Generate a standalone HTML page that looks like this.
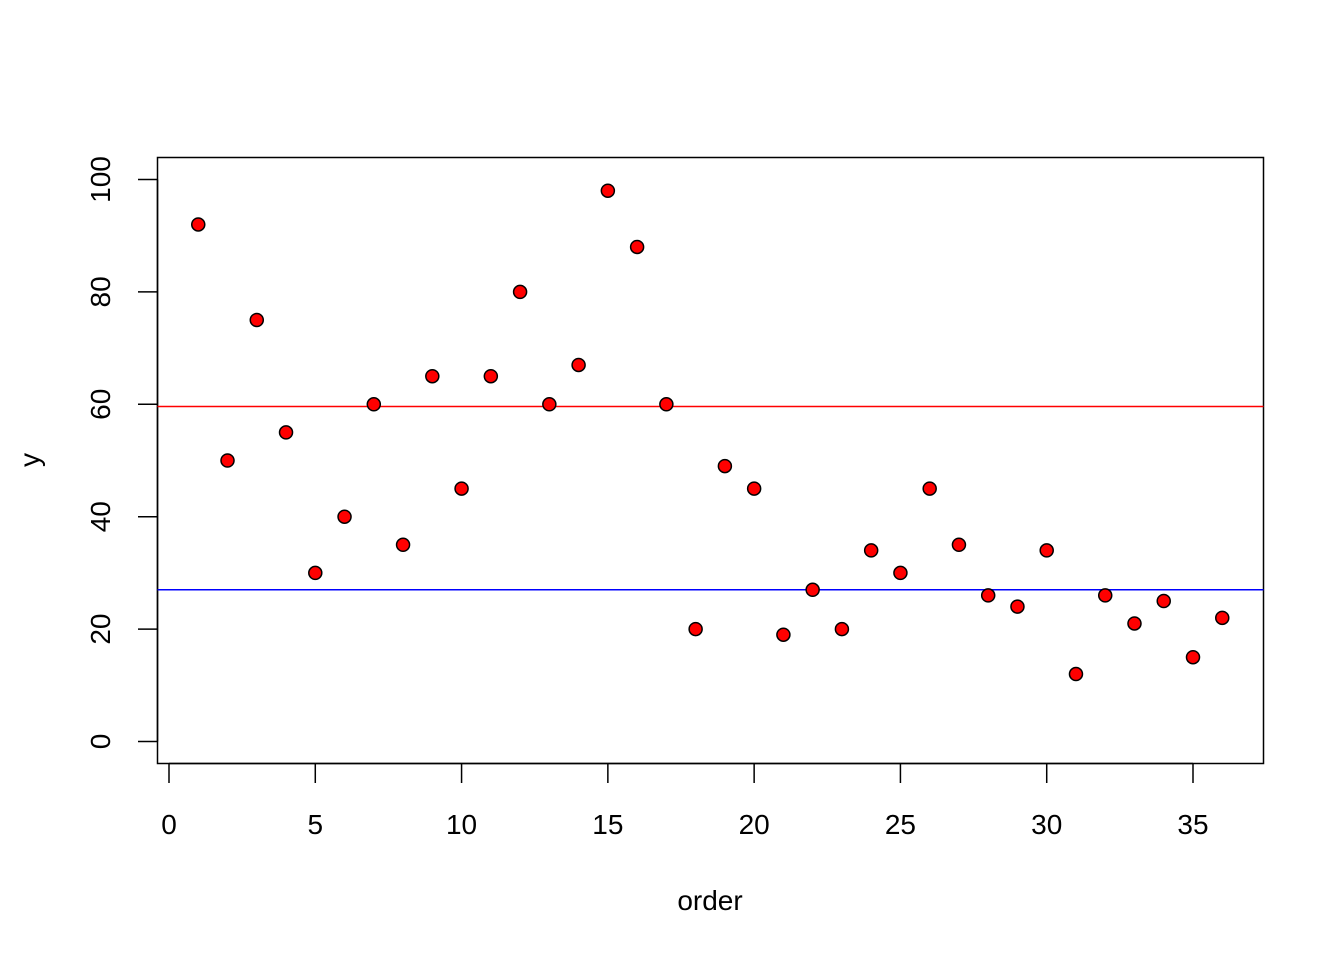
<!DOCTYPE html>
<html><head><meta charset="utf-8"><style>
body{margin:0;background:#fff}
svg text{font-family:"Liberation Sans",Arial,sans-serif;font-size:28px;fill:#000}
</style></head><body>
<svg width="1344" height="960">
<rect x="157.5" y="157.5" width="1106" height="606" fill="none" stroke="#000" stroke-width="1.5"/>
<g id="xaxis"></g>
<g id="yaxis"></g>
<g id="lines"></g>
<g id="pts"></g>
<text x="710" y="910" text-anchor="middle">order</text>
<text transform="translate(39,460) rotate(-90)" text-anchor="middle">y</text>
</svg>
<script>
const yValues=[92,50,75,55,30,40,60,35,65,45,65,80,60,67,98,88,60,20,49,45,19,27,20,34,30,45,35,26,24,34,12,26,21,25,15,22];
const xTicks=[0,5,10,15,20,25,30,35];
const yTicks=[0,20,40,60,80,100];
const redLineValue=59.6;
const blueLineValue=27;
const sx=v=>169+v*(1024/35);
const sy=v=>741.5-v*5.62;
const NS="http://www.w3.org/2000/svg";
function mk(t,a,p){const e=document.createElementNS(NS,t);for(const k in a)e.setAttribute(k,a[k]);p.appendChild(e);return e;}
const xa=document.getElementById('xaxis');
mk('line',{x1:sx(0),x2:sx(35),y1:763.5,y2:763.5,stroke:'#000','stroke-width':1.5},xa);
xTicks.forEach(t=>{
 const l=mk('line',{x1:sx(t),x2:sx(t),y1:763.5,y2:783,stroke:'#000','stroke-width':1.5},xa);
 
 
 const tx=mk('text',{x:sx(t),y:834,'text-anchor':'middle'},xa);tx.textContent=t;
 
 
});
const ya=document.getElementById('yaxis');
mk('line',{x1:157.5,x2:157.5,y1:sy(0),y2:sy(100),stroke:'#000','stroke-width':1.5},ya);
yTicks.forEach(t=>{
 const l=mk('line',{x1:138,x2:157.5,y1:sy(t),y2:sy(t),stroke:'#000','stroke-width':1.5},ya);
 
 
 const tx=mk('text',{transform:`translate(110,${sy(t)}) rotate(-90)`,'text-anchor':'middle'},ya);tx.textContent=t;
 
 
});
const lg=document.getElementById('lines');
const r=mk('line',{x1:157.5,x2:1263.5,y1:sy(redLineValue),y2:sy(redLineValue),stroke:'#f00','stroke-width':1.5},lg);


const b=mk('line',{x1:157.5,x2:1263.5,y1:sy(blueLineValue),y2:sy(blueLineValue),stroke:'#00f','stroke-width':1.5},lg);


const pg=document.getElementById('pts');
yValues.forEach((v,i)=>{
 const c=mk('circle',{cx:sx(i+1),cy:sy(v),r:6.5,fill:'#f00',stroke:'#000','stroke-width':1.5},pg);
 
 
});
</script>
</body></html>
